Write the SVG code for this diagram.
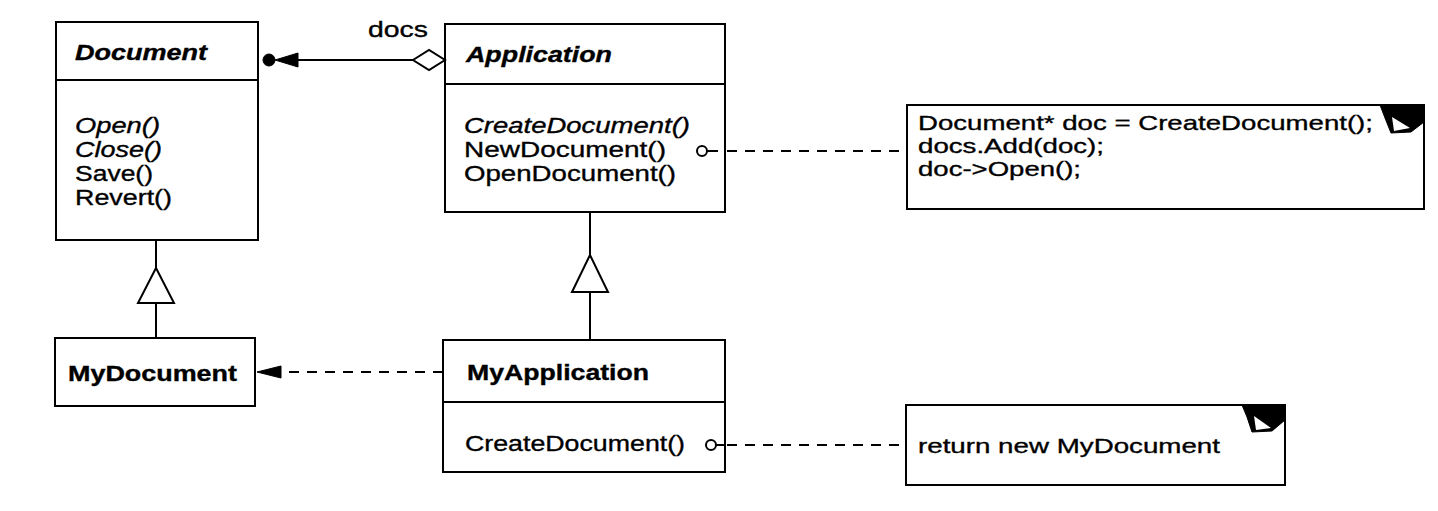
<svg xmlns="http://www.w3.org/2000/svg" width="1438" height="511" viewBox="0 0 1438 511">
<style>
.box{fill:#fff;stroke:#000;stroke-width:2}
.ln{fill:none;stroke:#000;stroke-width:2}
.dash{fill:none;stroke:#000;stroke-width:2;stroke-dasharray:10 8}
.t{font-family:"Liberation Sans",Arial,Helvetica,sans-serif;font-size:22px;fill:#000;stroke:#000;stroke-width:0.35}
.n{font-size:21px}
.bi{font-weight:bold;font-style:italic}
.b{font-weight:bold}
.i{font-style:italic}
.solid{fill:#000;stroke:#000;stroke-width:1}
.hollow{fill:#fff;stroke:#000;stroke-width:2}
</style>
<rect width="1438" height="511" fill="#fff"/>

<g id="Document">
<rect class="box" x="56" y="22" width="202" height="218"/>
<line class="ln" x1="56" y1="80" x2="258" y2="80"/>
<text class="t bi" x="75" y="60" textLength="132" lengthAdjust="spacingAndGlyphs">Document</text>
<text class="t i" x="75" y="133" textLength="85" lengthAdjust="spacingAndGlyphs">Open()</text>
<text class="t i" x="75" y="157" textLength="87" lengthAdjust="spacingAndGlyphs">Close()</text>
<text class="t" x="75" y="181" textLength="78" lengthAdjust="spacingAndGlyphs">Save()</text>
<text class="t" x="75" y="205" textLength="97" lengthAdjust="spacingAndGlyphs">Revert()</text>
</g>

<g id="Application">
<rect class="box" x="445" y="24" width="280" height="188"/>
<line class="ln" x1="445" y1="84" x2="725" y2="84"/>
<text class="t bi" x="466" y="62" textLength="146" lengthAdjust="spacingAndGlyphs">Application</text>
<text class="t i" x="464" y="133" textLength="226" lengthAdjust="spacingAndGlyphs">CreateDocument()</text>
<text class="t" x="464" y="157" textLength="202" lengthAdjust="spacingAndGlyphs">NewDocument()</text>
<text class="t" x="464" y="181" textLength="212" lengthAdjust="spacingAndGlyphs">OpenDocument()</text>
</g>

<g id="MyDocument">
<rect class="box" x="55" y="338" width="200" height="68"/>
<text class="t b" x="68" y="381" textLength="169" lengthAdjust="spacingAndGlyphs">MyDocument</text>
</g>

<g id="MyApplication">
<rect class="box" x="443" y="340" width="282" height="132"/>
<line class="ln" x1="443" y1="402" x2="725" y2="402"/>
<text class="t b" x="467" y="380" textLength="182" lengthAdjust="spacingAndGlyphs">MyApplication</text>
<text class="t" x="465" y="451" textLength="220" lengthAdjust="spacingAndGlyphs">CreateDocument()</text>
</g>

<g id="NoteNewDocument">
<rect class="box" x="907" y="105" width="517" height="104"/>
<polygon class="solid" points="1380,105 1424,105 1424,122 1411,132 1391,133 1385,118"/>
<polygon fill="#fff" points="1392,117 1410,128 1394,131"/>
<text class="t n" x="918" y="130" textLength="455" lengthAdjust="spacingAndGlyphs">Document* doc = CreateDocument();</text>
<text class="t n" x="918" y="153" textLength="186" lengthAdjust="spacingAndGlyphs">docs.Add(doc);</text>
<text class="t n" x="918" y="176" textLength="163" lengthAdjust="spacingAndGlyphs">doc-&gt;Open();</text>
</g>

<g id="NoteCreateDocument">
<rect class="box" x="906" y="405" width="379" height="80"/>
<polygon class="solid" points="1242,405 1285,405 1285,420 1272,431 1252,432 1247,417"/>
<polygon fill="#fff" points="1254,416 1271,428 1256,430"/>
<text class="t n" x="918" y="453" textLength="302" lengthAdjust="spacingAndGlyphs">return new MyDocument</text>
</g>

<g id="connectors">
<line class="ln" x1="297" y1="60" x2="413" y2="60"/>
<circle class="solid" cx="269" cy="60" r="6"/>
<polygon class="solid" points="275,60 298,53 298,67"/>
<polygon class="hollow" points="413,60 429,50 445,60 429,70"/>
<text class="t" x="368" y="37" textLength="60" lengthAdjust="spacingAndGlyphs">docs</text>
<line class="ln" x1="156" y1="240" x2="156" y2="268"/>
<polygon class="hollow" points="156,268 138,303 174,303"/>
<line class="ln" x1="156" y1="303" x2="156" y2="338"/>
<line class="ln" x1="590" y1="212" x2="590" y2="255"/>
<polygon class="hollow" points="590,255 572,292 608,292"/>
<line class="ln" x1="590" y1="292" x2="590" y2="340"/>
<line class="dash" x1="443" y1="372" x2="281" y2="372"/>
<polygon class="solid" points="257,372 281,366 281,378"/>
<circle class="hollow" cx="702" cy="151" r="5"/>
<line class="ln" x1="707" y1="151" x2="718" y2="151"/>
<line class="dash" x1="727" y1="151" x2="907" y2="151"/>
<circle class="hollow" cx="711" cy="445" r="5"/>
<line class="ln" x1="716" y1="445" x2="725" y2="445"/>
<line class="dash" x1="727" y1="445" x2="906" y2="445"/>
</g>
</svg>
